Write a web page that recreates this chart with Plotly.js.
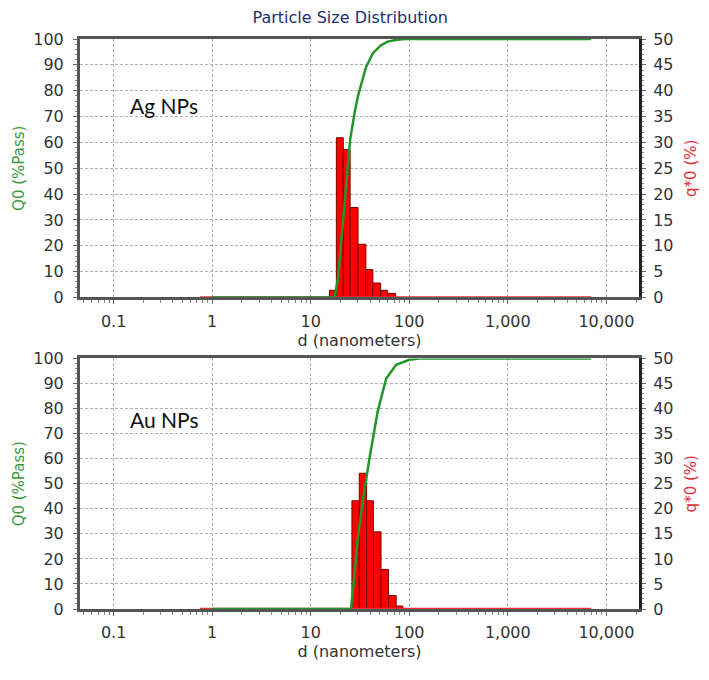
<!DOCTYPE html>
<html>
<head>
<meta charset="utf-8">
<script src="https://cdn.plot.ly/plotly-3.0.1.min.js"></script>
<style>
  body { margin: 0; background: #fff; }
  #psd-chart { width: 709px; height: 680px; }
</style>
</head>
<body>
<div id="psd-chart"></div>
<script>
// Ag NPs - histogram bins (nm) and q*0 (%)
const agEdges = [15.5, 18.2, 21.4, 25.1, 30.2, 36.3, 42.7, 51.3, 60.3, 72.4];
const agDensity = [1.4, 30.9, 28.6, 17.4, 10.3, 5.4, 2.8, 1.4, 0.8];
// Ag NPs - cumulative Q0 (%Pass)
const agCumD = [1, 17.5, 19, 21.4, 25.1, 28, 30.2, 36.3, 42.7, 51.3, 60.3, 72.4, 90, 7000];
const agCumQ = [0, 0, 8, 32, 61, 72, 78, 89, 94.5, 97.5, 99, 99.6, 100, 100];

// Au NPs - histogram bins (nm) and q*0 (%)
const auEdges = [26.2, 31.1, 36.9, 43.2, 51.7, 61.6, 73.6, 86.1];
const auDensity = [21.6, 27.1, 21.6, 15.4, 7.9, 2.7, 0.6];
// Au NPs - cumulative Q0 (%Pass)
const auCumD = [1, 25.6, 27.5, 30, 33.7, 39.4, 47.9, 58.3, 73.6, 100, 127, 7000];
const auCumQ = [0, 0, 12, 28, 43, 60, 79, 92, 97.5, 99.5, 100, 100];

// density baseline (q*0 = 0 outside the bins)
const baseD = [0.75, 7000];
const baseQ = [0, 0];

const tickVals = [0.1, 1, 10, 100, 1000, 10000];
const tickText = ['0.1', '1', '10', '100', '1,000', '10,000'];

const GREEN = '#22962a';
const RED = '#ff0000';

function barTrace(edges, vals, xa, ya) {
    // bar centre / width in linear units -> exact bin edges on the log axis
    const x = [], w = [];
    for (let i = 0; i < vals.length; i++) {
        x.push((edges[i] + edges[i + 1]) / 2);
        w.push(edges[i + 1] - edges[i]);
    }
    return {
        type: 'bar', x: x, y: vals, width: w,
        xaxis: xa, yaxis: ya,
        marker: { color: RED, line: { color: '#7a0000', width: 1 } },
        hoverinfo: 'skip'
    };
}

function lineTrace(xs, ys, xa, ya, color) {
    return {
        type: 'scatter', mode: 'lines', x: xs, y: ys,
        xaxis: xa, yaxis: ya,
        line: { color: color, width: 2.5 },
        hoverinfo: 'skip'
    };
}

const traces = [
    barTrace(agEdges, agDensity, 'x', 'y'),
    lineTrace(baseD, baseQ, 'x', 'y', '#e8343c'),
    lineTrace(agCumD, agCumQ, 'x', 'y2', GREEN),
    barTrace(auEdges, auDensity, 'x2', 'y3'),
    lineTrace(baseD, baseQ, 'x2', 'y3', '#e8343c'),
    lineTrace(auCumD, auCumQ, 'x2', 'y4', GREEN)
];

const gridStyle = { gridcolor: '#b0b0b0', griddash: '3px,2px', gridwidth: 1 };

function xAxis(anchor) {
    return Object.assign({
        type: 'log',
        anchor: anchor,
        domain: [0, 1],
        range: [-1.341, 4.331],
        tickmode: 'array',
        tickvals: tickVals,
        ticktext: tickText,
        ticks: 'outside',
        ticklen: 4,
        tickcolor: '#666',
        ticklabelstandoff: 3,
        minor: { dtick: 'D1', ticks: 'outside', ticklen: 3, tickcolor: '#888', showgrid: false },
        showline: true,
        linecolor: '#555',
        linewidth: 3,
        mirror: true,
        zeroline: false,
        showgrid: true,
        title: { text: 'd (nanometers)', font: { size: 16, color: '#333' }, standoff: 2 }
    }, gridStyle);
}

function rightAxis(domain, anchor) {
    return Object.assign({
        domain: domain,
        anchor: anchor,
        side: 'right',
        range: [0, 50],
        dtick: 5,
        ticks: 'outside',
        ticklen: 4,
        tickcolor: '#666',
        ticklabelstandoff: 4,
        minor: { dtick: 1, ticks: 'outside', ticklen: 2, tickcolor: '#888', showgrid: false },
        showline: true,
        linecolor: '#222',
        linewidth: 3,
        zeroline: false,
        showgrid: true,
        title: { text: 'q*0 (%)', font: { size: 15, color: '#e0303a' }, standoff: 13 }
    }, gridStyle);
}

function leftAxis(overlay, anchor) {
    return {
        overlaying: overlay,
        anchor: anchor,
        side: 'left',
        range: [0, 100],
        dtick: 10,
        ticks: 'outside',
        ticklen: 4,
        tickcolor: '#666',
        ticklabelstandoff: 6,
        minor: { dtick: 2, ticks: 'outside', ticklen: 2, tickcolor: '#888', showgrid: false },
        showline: true,
        linecolor: '#555',
        linewidth: 3,
        zeroline: false,
        showgrid: false,
        title: { text: 'Q0 (%Pass)', font: { size: 15, color: '#3a9a3a' }, standoff: 5 }
    };
}

const layout = {
    width: 709,
    height: 680,
    margin: { l: 80, r: 70, t: 39, b: 71 },
    paper_bgcolor: '#ffffff',
    plot_bgcolor: '#ffffff',
    showlegend: false,
    bargap: 0,
    barmode: 'overlay',
    font: { family: 'DejaVu Sans, Verdana, sans-serif', size: 16, color: '#333' },
    title: {
        text: 'Particle Size Distribution',
        font: { size: 16, color: '#1c2f6e' },
        xref: 'container', x: 0.494,
        yref: 'container', y: 0.974, yanchor: 'middle'
    },
    xaxis: xAxis('y'),
    yaxis: rightAxis([0.5465, 1], 'x'),
    yaxis2: leftAxis('y', 'x'),
    xaxis2: xAxis('y3'),
    yaxis3: rightAxis([0, 0.4395], 'x2'),
    yaxis4: leftAxis('y3', 'x2'),
    annotations: [
        { text: 'Ag NPs', xref: 'paper', yref: 'paper', x: 0.085, y: 0.8825,
          xanchor: 'left', yanchor: 'middle', showarrow: false,
          font: { family: 'Lato, sans-serif', size: 21, color: '#111' } },
        { text: 'Au NPs', xref: 'paper', yref: 'paper', x: 0.085, y: 0.3316,
          xanchor: 'left', yanchor: 'middle', showarrow: false,
          font: { family: 'Lato, sans-serif', size: 21, color: '#111' } }
    ]
};

const config = { responsive: false, displayModeBar: false, staticPlot: true };

Plotly.newPlot('psd-chart', traces, layout, config);
</script>
</body>
</html>
